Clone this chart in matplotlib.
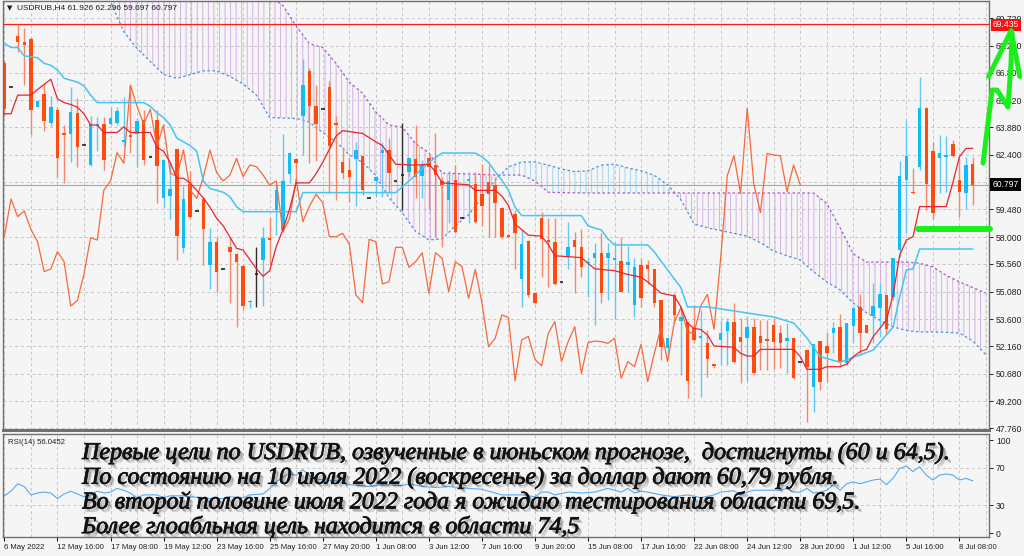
import numpy as np
import matplotlib as mpl
import matplotlib.pyplot as plt
import matplotlib.patheffects as pe
from matplotlib.transforms import blended_transform_factory

# USDRUB H4 candles, bar 0 .. 146 (6 May 2022 - 8 Jul 2022)
opens = [67.30, 66.01, 68.76, 68.46, 68.58, 64.98, 65.66, 64.09, 64.80, 63.55,
         63.51, 64.66, 62.91, 61.86, 63.94, 64.03, 64.03, 64.12, 63.10, 63.46,
         63.51, 64.26, 62.27, 64.26, 60.07, 60.20, 62.70, 57.40, 60.84, 59.40,
         60.02, 56.50, 57.72, 56.29, 57.49, 57.08, 56.47, 54.50, 56.02, 56.77,
         57.97, 59.45, 58.38, 61.38, 62.18, 64.48, 66.89, 65.00, 64.84, 66.01,
         64.09, 62.03, 61.59, 62.18, 62.36, 60.07, 61.02, 62.52, 62.66, 61.00,
         61.32, 61.47, 62.18, 61.29, 62.23, 61.86, 61.02, 59.98, 61.05, 59.00,
         61.00, 60.82, 60.29, 60.97, 60.79, 59.54, 58.11, 59.23, 55.74, 57.79,
         54.99, 59.00, 57.84, 57.75, 55.61, 56.99, 57.84, 57.49, 56.60, 56.86,
         57.16, 56.86, 56.77, 56.74, 56.50, 54.36, 56.50, 56.50, 56.27, 54.63,
         52.04, 54.90, 53.52, 53.43, 53.11, 52.60, 52.31, 51.18, 52.49, 52.98,
         53.47, 52.66, 52.58, 53.20, 52.70, 52.49, 53.29, 52.85, 52.45, 52.58,
         51.33, 51.95, 49.99, 52.44, 52.17, 52.88, 53.20, 51.28, 53.24, 54.27,
         53.29, 53.77, 54.22, 54.90, 54.81, 57.31, 61.05, 60.43, 61.77, 64.89,
         62.61, 62.21, 62.30, 63.01, 61.05, 60.34, 61.926]
highs = [67.50, 66.01, 69.35, 69.17, 68.73, 65.33, 66.19, 65.55, 64.98, 63.99,
         66.01, 65.43, 62.91, 64.48, 64.41, 64.44, 64.94, 64.98, 65.48, 66.14,
         64.35, 64.80, 62.27, 64.80, 62.15, 62.00, 62.70, 60.73, 61.55, 59.40,
         60.16, 58.47, 58.02, 56.29, 58.02, 57.13, 56.50, 54.63, 57.45, 58.52,
         59.09, 60.88, 63.52, 62.55, 62.21, 67.52, 67.03, 66.14, 64.84, 66.37,
         64.48, 62.84, 62.30, 63.11, 62.36, 60.07, 61.25, 63.11, 63.28, 61.00,
         64.09, 62.25, 63.99, 62.12, 62.39, 63.55, 61.23, 61.54, 61.86, 59.00,
         61.50, 61.50, 61.90, 61.86, 61.23, 59.63, 58.15, 59.45, 58.38, 57.84,
         55.00, 59.36, 59.00, 59.00, 55.61, 58.82, 58.29, 58.41, 56.95, 57.66,
         58.20, 57.66, 57.75, 58.02, 57.52, 56.86, 56.86, 56.77, 56.27, 54.63,
         52.60, 54.99, 54.09, 53.43, 54.36, 54.09, 53.02, 51.20, 53.56, 53.65,
         54.45, 53.65, 53.77, 53.65, 53.56, 53.56, 53.60, 53.29, 53.38, 52.60,
         51.33, 51.95, 52.26, 52.44, 52.93, 53.43, 53.88, 53.42, 54.22, 54.93,
         53.30, 55.56, 55.56, 54.92, 56.86, 62.09, 64.27, 61.68, 66.59, 64.98,
         63.11, 63.46, 63.41, 63.19, 62.30, 62.30, 62.296]
lows = [64.50, 66.01, 67.92, 66.14, 63.46, 64.94, 63.69, 63.94, 61.23, 60.87,
        62.03, 61.76, 62.91, 61.82, 62.60, 61.59, 63.99, 63.99, 62.90, 62.48,
        61.76, 61.86, 62.27, 59.84, 59.59, 58.99, 56.77, 57.13, 59.00, 59.40,
        56.50, 55.20, 55.08, 56.29, 54.45, 53.20, 54.09, 54.20, 54.27, 54.31,
        56.50, 58.11, 58.29, 60.88, 60.97, 62.39, 61.95, 62.05, 64.84, 60.38,
        59.98, 61.09, 59.89, 59.66, 60.25, 60.07, 60.16, 60.16, 60.38, 61.00,
        59.45, 61.23, 60.07, 60.07, 59.45, 58.02, 57.49, 58.73, 58.20, 59.00,
        58.73, 58.73, 58.60, 58.02, 58.02, 57.95, 57.95, 56.30, 54.27, 54.81,
        54.40, 55.88, 55.34, 55.43, 55.61, 56.30, 54.99, 55.88, 54.81, 53.29,
        54.45, 54.63, 53.60, 55.08, 55.08, 53.74, 54.27, 55.50, 54.27, 51.42,
        51.50, 53.38, 50.61, 49.36, 52.31, 49.45, 50.52, 51.00, 51.15, 51.15,
        51.24, 50.17, 50.31, 50.61, 50.88, 50.88, 50.93, 50.97, 50.70, 50.40,
        51.33, 48.12, 48.65, 49.81, 50.26, 51.78, 51.06, 51.15, 52.31, 51.69,
        52.85, 52.31, 52.67, 52.76, 54.63, 56.95, 58.23, 60.30, 61.59, 59.45,
        58.95, 60.38, 60.43, 62.30, 59.09, 59.48, 59.697]
closes = [64.85, 66.01, 68.46, 68.28, 64.80, 65.28, 64.23, 64.94, 62.21, 63.46,
          64.71, 62.80, 62.91, 64.03, 64.03, 62.12, 64.35, 64.75, 63.20, 63.37,
          64.21, 62.12, 62.27, 61.82, 62.12, 60.60, 58.06, 60.04, 59.09, 59.40,
          58.41, 57.75, 56.15, 56.29, 57.22, 56.68, 54.31, 54.60, 56.02, 57.97,
          57.84, 60.52, 61.00, 62.52, 61.95, 66.14, 65.00, 64.05, 64.84, 62.87,
          64.00, 61.45, 61.23, 62.66, 60.52, 60.07, 61.23, 62.66, 61.45, 61.00,
          61.32, 62.21, 61.23, 61.86, 61.77, 61.32, 60.79, 61.00, 58.29, 59.00,
          61.10, 58.82, 59.66, 60.29, 59.84, 58.02, 58.02, 58.20, 57.63, 54.90,
          54.49, 57.88, 57.75, 55.49, 55.61, 57.45, 57.45, 56.38, 56.68, 57.16,
          54.99, 57.16, 56.86, 55.08, 56.68, 56.41, 54.72, 56.27, 54.49, 52.13,
          52.58, 53.83, 53.70, 50.31, 52.49, 52.68, 51.45, 51.10, 52.84, 53.47,
          51.33, 52.40, 53.20, 50.70, 52.35, 52.43, 52.40, 52.31, 52.58, 50.44,
          51.33, 51.06, 52.26, 50.26, 51.78, 53.15, 51.33, 53.42, 54.22, 52.88,
          52.88, 54.31, 54.93, 53.06, 56.86, 61.29, 62.36, 60.34, 64.89, 60.84,
          59.31, 62.48, 62.39, 62.36, 60.43, 61.86, 60.797]

# Ichimoku lines (bar, price)
tenkan_bars = [0, 1, 2, 4, 5, 7, 8, 9, 10, 11, 12, 13, 14, 15, 17, 18, 19, 22, 23, 24,
               25, 26, 27, 28, 29, 30, 31, 32, 33, 34, 35, 36, 37, 38, 39, 40, 41, 42, 43, 44,
               46, 47, 48, 49, 50, 51, 54, 56, 57, 58, 59, 62, 64, 65, 66, 70, 71, 74, 75, 76,
               77, 79, 81, 82, 83, 87, 88, 89, 92, 94, 96, 97, 98, 99, 101, 102, 103, 104, 105, 106,
               107, 110, 111, 112, 113, 114, 119, 120, 121, 123, 124, 126, 127, 128, 129, 130, 131, 132, 133, 134,
               135, 136, 137, 138, 142, 143, 144, 145, 146]
tenkan_vals = [64.6, 64.6, 65.6, 65.6, 65.9, 66.45, 65.4, 65.2, 65.1, 64.95, 64.6, 64.0, 64.0, 63.6, 63.6, 63.9, 63.6, 63.6, 62.8, 62.6,
               62.0, 61.15, 61.15, 60.9, 60.5, 60.1, 59.6, 59.0, 58.6, 58.0, 57.4, 57.3, 56.8, 56.3, 55.9, 56.2, 57.5, 58.4, 59.5, 60.9,
               60.9, 61.4, 62.0, 62.7, 63.4, 63.7, 63.55, 63.1, 62.9, 62.4, 61.9, 61.85, 61.9, 61.5, 60.9, 60.8, 60.5, 60.5, 60.2, 59.7,
               58.7, 58.1, 58.05, 57.6, 57.0, 56.9, 56.6, 56.3, 56.2, 56.0, 55.85, 55.6, 55.3, 55.0, 54.85, 54.27, 53.38, 53.11, 53.05, 52.76,
               52.17, 52.1, 51.78, 51.63, 51.63, 51.99, 51.99, 51.6, 50.92, 50.92, 51.06, 51.06, 51.19, 51.6, 51.86, 51.99, 52.67, 53.11, 53.56, 54.9,
               57.04, 57.84, 58.02, 59.63, 59.63, 60.9, 62.3, 62.75, 62.75]
kijun_bars = [0, 1, 2, 3, 5, 6, 7, 8, 9, 10, 11, 12, 13, 14, 21, 22, 23, 24, 25, 26,
              27, 28, 29, 30, 31, 32, 33, 34, 35, 36, 44, 45, 59, 61, 64, 66, 71, 72, 73, 74,
              75, 76, 77, 78, 87, 88, 90, 91, 92, 97, 98, 100, 102, 103, 106, 116, 119, 121, 123, 126,
              131, 134, 135, 136, 137, 138, 146]
kijun_vals = [68.37, 68.15, 68.15, 67.7, 67.6, 67.3, 67.2, 66.95, 66.5, 66.4, 66.3, 66.1, 65.6, 65.2, 65.2, 65.0, 64.65, 64.4, 64.0, 63.3,
              63.1, 62.9, 62.6, 61.0, 60.6, 60.5, 60.4, 60.16, 59.63, 59.36, 59.36, 60.38, 60.38, 61.0, 62.0, 62.5, 62.5, 62.3, 62.0, 61.5,
              61.05, 60.5, 59.6, 59.15, 59.15, 58.6, 58.38, 57.9, 57.58, 57.58, 57.2, 56.24, 55.3, 54.26, 54.26, 53.72, 53.4, 52.6, 51.6, 51.3,
              51.95, 53.18, 54.8, 56.24, 56.3, 57.36, 57.36]
cloud_bars = list(range(14, 149, 2))
span_a = [71.8, 70.6, 69.0, 68.1, 67.4, 66.7, 66.5, 66.7, 66.9, 66.9,
          66.6, 66.2, 65.6, 64.4, 64.37, 64.35, 64.15, 63.6, 63.1, 62.4,
          62.0, 61.3, 60.1, 59.3, 58.3, 57.85, 57.9, 58.6, 59.2, 60.1,
          61.05, 61.75, 62.02, 62.02, 61.85, 61.65, 61.5, 61.55, 61.85, 61.9,
          61.7, 61.55, 61.3, 60.8, 60.0, 58.7, 58.5, 58.35, 58.2, 58.05,
          57.7, 57.25, 57.0, 56.77, 56.15, 55.6, 55.17, 54.47, 53.95, 53.55,
          53.19, 53.0, 52.92, 52.92, 52.9, 52.86, 52.44, 51.69]
span_b = [74.0, 74.0, 74.0, 74.0, 74.0, 74.0, 74.0, 74.0, 74.0, 73.5,
          73.0, 72.5, 71.8, 70.9, 70.4, 69.3, 68.35, 68.15, 67.3, 66.3,
          65.7, 64.7, 64.0, 63.88, 63.0, 62.52, 61.42, 61.4, 61.38, 61.35,
          61.32, 61.32, 61.32, 61.0, 60.4, 60.38, 60.37, 60.36, 60.36, 60.36,
          60.36, 60.36, 60.36, 60.36, 60.36, 60.36, 60.36, 60.36, 60.36, 60.36,
          60.36, 60.36, 60.36, 60.36, 60.36, 59.8, 58.5, 57.1, 56.66, 56.66,
          56.66, 56.66, 56.6, 56.4, 55.95, 55.6, 55.3, 55.0]
chikou_shift = 26

# RSI(14) (bar, value)
rsi_bars = [0, 1, 2, 3, 4, 5, 6, 7, 8, 9, 10, 11, 12, 13, 14, 15, 16, 17, 18, 19, 20, 21,
            23, 24, 25, 27, 28, 30, 31, 33, 34, 36, 37, 39, 40, 41, 42, 43, 44, 45, 46, 47, 50,
            52, 55, 57, 60, 61, 63, 65, 67, 70, 72, 75, 78, 80, 81, 82, 83, 85, 87, 89, 90,
            91, 92, 93, 94, 95, 96, 97, 99, 101, 103, 105, 107, 108, 110, 111, 112, 113, 115, 117, 118,
            119, 120, 121, 122, 123, 124, 125, 126, 127, 128, 129, 130, 131, 132, 133, 134, 135, 136, 137, 138,
            139, 140, 141, 142, 143, 144, 145, 146]
rsi_vals = [40, 45, 53, 50, 41, 43, 44, 43, 37, 42, 45, 42, 39, 41, 45, 43, 44, 48, 46, 43, 38, 41,
            41, 38, 40, 40, 39, 38, 37, 37, 39, 38, 41, 42, 48, 55, 60, 64, 62, 68, 62, 58, 56,
            52, 50, 52, 51, 53, 50, 49, 50, 48, 47, 41, 41, 39, 44, 44, 41, 44, 43, 44, 46,
            48, 46, 44, 48, 43, 45, 44, 41, 39, 41, 38, 41, 44, 45.5, 41, 44, 46, 46, 46, 48,
            44, 44, 48, 43, 44, 46, 52, 46, 53, 55, 53, 55, 57, 58, 52, 59, 69.5, 72, 66, 71.3,
            62.4, 57, 62.4, 63.4, 62.4, 57, 58.8, 56.05]

price_ticks = [47.76, 49.20, 50.68, 52.16, 53.60, 55.08, 56.56, 58.00,
               59.48, 60.96, 62.40, 63.88, 65.32, 66.80, 68.24, 69.72]
hidden_tick = 60.96  # covered by the last price box
time_labels = ["6 May 2022", "12 May 16:00", "17 May 08:00", "19 May 12:00", "23 May 16:00",
               "25 May 16:00", "27 May 20:00", "1 Jun 08:00", "3 Jun 12:00", "7 Jun 16:00",
               "9 Jun 20:00", "15 Jun 08:00", "17 Jun 16:00", "22 Jun 08:00", "24 Jun 12:00",
               "28 Jun 20:00", "1 Jul 12:00", "5 Jul 16:00", "8 Jul 08:00"]
alert_level = 69.435
last_price = 60.797

# hand drawn green marks (bar, price)
support_x = [137.8, 148.6]
support_y = [58.42, 58.42]
arrow_x = [147.56, 148.92, 149.67, 151.33, 151.78, 151.93]
arrow_y = [61.96, 65.87, 65.87, 64.96, 67.3, 68.95]
head_x = [148.4, 151.8, 153.1]
head_y = [66.6, 69.05, 66.6]

notes = ["Первые цели по USDRUB, озвученные в июньском прогнозе,  достигнуты (60 и 64,5).",
         "По состоянию на 10 июля 2022 (воскресенье) за доллар дают 60,79 рубля.",
         "Во второй половине июля 2022 года я ожидаю тестирования области 69,5.",
         "Более глоабльная цель находится в области 74,5"]

mpl.rcParams['hatch.linewidth'] = 0.6
mpl.rcParams['font.family'] = ['Liberation Sans', 'DejaVu Sans']
W, H = 1024, 556
BG = '#f5f5f5'
fig = plt.figure(figsize=(W / 100, H / 100), dpi=100, facecolor=BG)
ax = fig.add_axes([3 / W, 1 - 430 / H, 986 / W, 429 / H], facecolor=BG)
axr = fig.add_axes([3 / W, 1 - 537 / H, 986 / W, 103 / H], facecolor=BG)
for a in (ax, axr):
    a.set_xlim(-0.21, 148.46)
    for s in a.spines.values():
        s.set_color('#707070')
        s.set_linewidth(1)
ax.spines['bottom'].set_linewidth(2.2)
ax.set_ylim(47.67, 70.64)
axr.set_ylim(-4.3, 106.5)

grid_kw = dict(color='#c6c6c6', lw=0.7, ls=(0, (3, 3)), zorder=0.5)
for b in range(0, 149, 4):
    ax.axvline(b, **grid_kw)
    axr.axvline(b, **grid_kw)
for p in price_ticks:
    ax.axhline(p, **grid_kw)
for lv in (30, 70):
    axr.axhline(lv, **grid_kw)

# cloud
sa = np.array(span_a)
sb = np.array(span_b)
ax.fill_between(cloud_bars, sa, sb, where=sb >= sa, interpolate=True, facecolor='none',
                edgecolor='#d0a6e4', hatch='|||', lw=0, zorder=1)
ax.fill_between(cloud_bars, sa, sb, where=sa > sb, interpolate=True, facecolor='none',
                edgecolor='#96d0f2', hatch='|||', lw=0, zorder=1)
ax.plot(cloud_bars, span_a, color='#4d8fe0', lw=0.9, ls=(0, (2, 2)), zorder=1.2)
ax.plot(cloud_bars, span_b, color='#a65ad0', lw=0.9, ls=(0, (2, 2)), zorder=1.2)

ax.axhline(last_price, color='#a8a8a8', lw=0.8, zorder=1.5)
ax.axhline(alert_level, color='#ff1a1a', lw=0.9, zorder=2.5)

# candles
o, h, l, c = (np.array(v) for v in (opens, highs, lows, closes))
n = np.arange(len(o))
up, dn, dj = c > o, c < o, c == o
ax.vlines(n[up], l[up], h[up], color='#62c8f2', lw=1, zorder=2)
ax.vlines(n[dn], l[dn], h[dn], color='#f5886a', lw=1, zorder=2)
ax.vlines(n[dj], l[dj], h[dj], color='#303030', lw=1, zorder=2)
body = np.maximum(np.abs(c - o), 0.09)
ax.bar(n[up], body[up], bottom=o[up], width=0.52, color='#12bdf5', zorder=2.2)
ax.bar(n[dn], body[dn], bottom=c[dn], width=0.52, color='#ff4a10', zorder=2.2)
ax.hlines(o[dj], n[dj] - 0.27, n[dj] + 0.27, color='#202020', lw=1.2, zorder=2.2)

# chikou, kijun, tenkan
ax.plot(n[:len(c) - chikou_shift], c[chikou_shift:], color='#f5693c', lw=0.9, zorder=3)
ax.plot(kijun_bars, kijun_vals, color='#48c4f0', lw=1.1, zorder=3)
ax.plot(tenkan_bars, tenkan_vals, color='#e8242e', lw=0.9, zorder=3.1)

# price axis
ax.yaxis.tick_right()
ax.set_yticks(price_ticks)
ax.set_yticklabels(['' if p == hidden_tick else f'{p:.3f}' for p in price_ticks])
ax.tick_params(axis='y', length=3, width=0.7, pad=2, labelsize=6.2, colors='#202020')
ax.set_xticks([])
trans = blended_transform_factory(ax.transAxes, ax.transData)
ax.text(1.0035, alert_level - 0.08, f'{alert_level:.3f}', transform=trans, ha='left', va='center',
        fontsize=6.2, color='white', zorder=6, clip_on=False,
        bbox=dict(boxstyle='square,pad=0.22', fc='#ff1010', ec='none'))
ax.text(1.0035, last_price, f'{last_price:.3f}', transform=trans, ha='left', va='center',
        fontsize=6.2, color='white', zorder=6, clip_on=False,
        bbox=dict(boxstyle='square,pad=0.25', fc='black', ec='none'))
ax.text(0.004, 0.984, '\u25bc', transform=ax.transAxes, va='center', fontsize=5,
        family='DejaVu Sans', color='#202020')
ax.text(0.014, 0.984, 'USDRUB,H4 61.926 62.296 59.697 60.797', transform=ax.transAxes,
        va='center', fontsize=6.0, color='#202020')

# RSI window
axr.plot(rsi_bars, rsi_vals, color='#5aaaf0', lw=0.8, zorder=2)
axr.yaxis.tick_right()
axr.set_yticks([0, 30, 70, 100])
axr.tick_params(axis='y', length=3, width=0.7, pad=2, labelsize=6.2, colors='#202020')
axr.set_xticks(range(0, 147, 8))
axr.set_xticklabels(time_labels, ha='left', fontsize=5.6, color='#202020')
axr.tick_params(axis='x', length=3, width=0.7, pad=2)
axr.text(0.005, 0.92, 'RSI(14) 56.0452', transform=axr.transAxes, va='center', fontsize=5.6,
         color='#202020')

# green marks
green = dict(color='#19f019', solid_capstyle='round', solid_joinstyle='round',
             clip_on=False, zorder=10)
ax.plot(support_x, support_y, lw=4.3, **green)
ax.plot(arrow_x, arrow_y, lw=3.6, **green)
ax.plot(head_x, head_y, lw=3.6, **green)

# comment text
shadow = [pe.SimplePatchShadow(offset=(2.6, -2.6), shadow_rgbFace='black', alpha=0.18),
          pe.SimplePatchShadow(offset=(1.6, -1.6), shadow_rgbFace='black', alpha=0.25),
          pe.Stroke(linewidth=0.6, foreground='#111111'),
          pe.Normal()]
for i, line in enumerate(notes):
    fig.text(82 / W, 1 - (459 + 24.7 * i) / H, line, fontsize=17.3, style='italic',
             family=['Liberation Serif', 'DejaVu Serif'], color='#111111', va='baseline',
             path_effects=shadow)

fig.savefig('out.png', dpi=100, facecolor=BG)
